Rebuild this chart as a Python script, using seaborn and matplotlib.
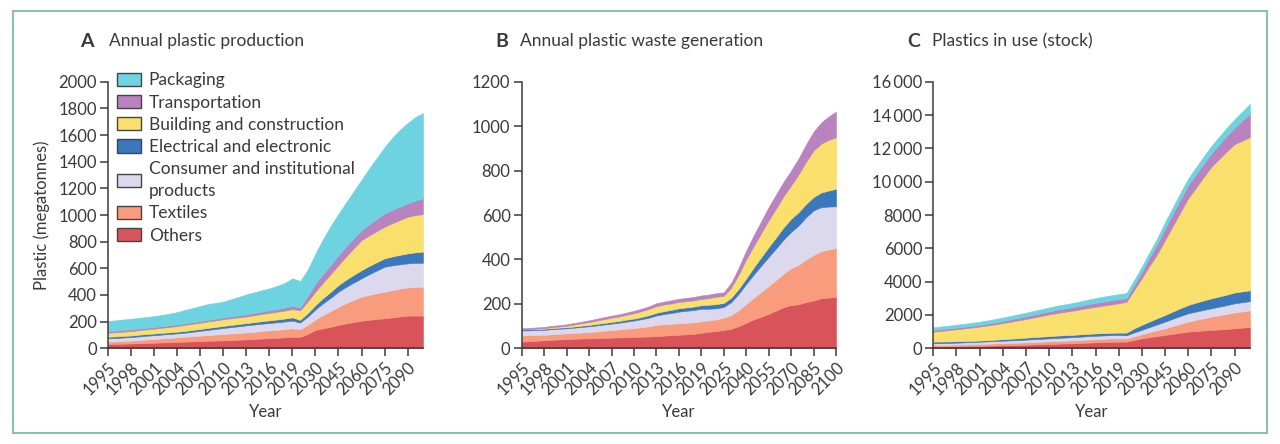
import numpy as np
import seaborn as sns
import matplotlib.pyplot as plt
from matplotlib.patches import Patch, Rectangle
from matplotlib.ticker import FuncFormatter

# categories (x axis is categorical: yearly, then every 5 years)
years_a = list(range(1995, 2021)) + list(range(2025, 2101, 5))
years_b = list(range(1995, 2022)) + list(range(2025, 2101, 5))
years_c = list(range(1995, 2021)) + list(range(2025, 2101, 5))

sectors = ['Others', 'Textiles', 'Consumer and institutional\nproducts',
           'Electrical and electronic', 'Building and construction',
           'Transportation', 'Packaging']
colors = ['#d8535a', '#f99c7e', '#dcd9ee', '#3b77bd', '#f9df6c', '#b983bf', '#6dd3e0']

# A - annual plastic production (Mt)
others_a = [32, 33, 35, 36, 38, 40, 42, 44, 46, 48, 50, 52, 54, 56, 58, 60, 62, 64, 67, 70,
            73, 76, 79, 82, 87, 85,
            108, 137, 150, 162, 175, 187, 197, 207, 214, 220, 225, 232, 239, 245, 246, 245]
textiles_a = [18, 19, 20, 22, 24, 26, 28, 30, 32, 34, 37, 39, 41, 43, 45, 47, 49, 50, 52, 54,
              56, 58, 60, 62, 63, 58,
              68, 80, 100, 118, 137, 152, 167, 180, 187, 194, 200, 205, 209, 212, 215, 217]
consumer_a = [25, 25, 26, 26, 27, 28, 28, 29, 29, 30, 30, 33, 36, 39, 42, 45, 48, 51, 53, 54,
              55, 56, 56, 57, 57, 50,
              62, 75, 88, 100, 113, 122, 130, 138, 155, 170, 187, 185, 182, 180, 180, 180]
electrical_a = [12, 12, 12, 12, 13, 13, 13, 13, 13, 13, 13, 14, 14, 15, 15, 16, 16, 17, 17, 18,
                19, 20, 21, 22, 25, 20,
                27, 33, 39, 45, 50, 54, 58, 62, 62, 63, 63, 67, 71, 75, 79, 83]
building_a = [30, 31, 32, 33, 34, 35, 36, 38, 40, 42, 45, 46, 47, 48, 49, 50, 50, 50, 50, 52,
              54, 56, 58, 60, 62, 72,
              88, 100, 117, 133, 150, 175, 200, 225, 229, 233, 237, 250, 262, 275, 279, 282]
transport_a = [13, 13, 13, 13, 13, 12, 12, 12, 12, 12, 12, 12, 12, 12, 13, 13, 14, 15, 16, 17,
               18, 19, 20, 22, 25, 20,
               40, 62, 66, 70, 75, 75, 75, 75, 83, 92, 100, 100, 100, 100, 109, 118]
packaging_a = [75, 77, 78, 80, 79, 81, 83, 84, 88, 93, 101, 106, 114, 119, 118, 119, 129, 138, 150, 155,
               160, 165, 174, 185, 206, 200,
               197, 223, 260, 292, 310, 330, 353, 378, 420, 458, 498, 541, 577, 603, 627, 640]

# B - annual plastic waste generation (Mt), no packaging layer shown
others_b = [30, 32, 34, 36, 38, 40, 42, 43, 44, 45, 46, 47, 48, 49, 50, 51, 52, 53, 55, 57,
            59, 61, 63, 65, 70, 74, 78,
            82, 88, 100, 115, 130, 142, 155, 170, 185, 195, 198, 208, 215, 225, 228, 232]
textiles_b = [28, 27, 26, 25, 25, 25, 25, 26, 27, 28, 30, 32, 34, 36, 38, 40, 43, 46, 50, 51,
              51, 52, 52, 52, 52, 52, 52,
              56, 62, 72, 85, 98, 112, 125, 138, 152, 165, 178, 192, 205, 212, 217, 220]
consumer_b = [22, 22, 22, 22, 23, 23, 23, 24, 25, 26, 27, 28, 29, 30, 32, 34, 36, 39, 43, 46,
              49, 52, 54, 55, 56, 52, 50,
              48, 58, 74, 90, 104, 118, 131, 142, 153, 164, 177, 190, 201, 198, 193, 187]
electrical_b = [5, 5, 5, 5, 5, 5, 5, 5, 6, 6, 7, 7, 8, 8, 9, 9, 10, 11, 12, 13,
                14, 15, 15, 16, 16, 18, 19,
                18, 20, 22, 25, 32, 38, 45, 50, 55, 59, 60, 60, 60, 66, 72, 79]
building_b = [0, 1, 2, 3, 4, 5, 7, 9, 11, 13, 15, 17, 19, 20, 22, 24, 26, 28, 30, 30,
              29, 29, 28, 28, 28, 30, 33,
              32, 45, 65, 85, 97, 108, 120, 130, 140, 150, 170, 190, 209, 220, 228, 232]
transport_b = [5, 5, 5, 5, 6, 6, 6, 7, 7, 8, 8, 9, 9, 10, 10, 11, 11, 12, 13, 13,
               14, 14, 15, 15, 16, 16, 16,
               16, 22, 30, 40, 47, 54, 60, 63, 65, 67, 72, 78, 85, 95, 105, 116]

# C - plastics in use, stock (Mt)
others_c = [100, 105, 110, 120, 130, 140, 150, 160, 170, 180, 190, 200, 215, 230, 245, 260, 275, 290, 300, 320,
            340, 360, 375, 390, 400, 400,
            500, 600, 670, 740, 800, 870, 935, 1000, 1035, 1070, 1100, 1130, 1160, 1200, 1240, 1280]
textiles_c = [100, 100, 100, 102, 105, 110, 115, 120, 125, 130, 135, 140, 145, 150, 155, 160, 165, 170, 175, 180,
              185, 190, 195, 200, 200, 190,
              220, 250, 300, 350, 400, 470, 535, 600, 670, 735, 800, 850, 900, 950, 975, 1000]
consumer_c = [100, 105, 110, 115, 120, 125, 130, 135, 140, 145, 150, 155, 160, 165, 170, 175, 180, 185, 190, 195,
              200, 200, 200, 200, 200, 190,
              230, 260, 305, 350, 400, 435, 470, 500, 500, 500, 500, 515, 530, 550, 550, 550]
electrical_c = [100, 95, 90, 85, 80, 75, 70, 75, 80, 90, 100, 110, 120, 125, 130, 135, 140, 140, 140, 140,
                140, 140, 140, 140, 140, 160,
                250, 300, 335, 370, 400, 435, 470, 500, 535, 570, 600, 615, 630, 650, 650, 650]
building_c = [600, 640, 680, 720, 760, 800, 840, 880, 920, 970, 1020, 1070, 1120, 1180, 1240, 1300, 1350, 1400, 1450, 1500,
              1550, 1600, 1650, 1700, 1760, 1850,
              2300, 2800, 3350, 3860, 4500, 5130, 5770, 6400, 6900, 7400, 7900, 8250, 8600, 8900, 9050, 9200]
transport_c = [100, 100, 100, 100, 100, 100, 100, 110, 120, 130, 140, 150, 160, 170, 180, 190, 200, 205, 210, 220,
               230, 240, 245, 250, 250, 220,
               300, 400, 500, 600, 700, 730, 770, 800, 800, 800, 800, 870, 930, 1000, 1200, 1400]
packaging_c = [160, 165, 170, 175, 180, 185, 190, 195, 200, 205, 210, 215, 220, 225, 230, 235, 240, 245, 250, 260,
               270, 280, 290, 300, 300, 300,
               300, 300, 320, 350, 380, 390, 400, 400, 420, 440, 450, 470, 490, 500, 550, 600]

sns.set_style('ticks')
plt.rcParams['font.family'] = ['Lato', 'DejaVu Sans']
ink = '#3a3a3a'

fig = plt.figure(figsize=(12.8, 4.44), dpi=100)
fig.patches.append(Rectangle((13 / 1280, 11 / 444), 1254 / 1280, 422 / 444, transform=fig.transFigure,
                             fill=False, edgecolor='#8fbfae', linewidth=1.5))


def thin_thousands(v, pos):
    v = int(round(v))
    if v >= 10000:
        return f'{v // 1000}\u2009{v % 1000:03d}'
    return str(v)


def panel(rect, years, layers, cols, ymax, ystep, letter, title, lx, tx, fmt=None):
    ax = fig.add_axes(rect)
    x = np.arange(len(years))
    ax.stackplot(x, *layers, colors=cols, linewidth=0.4, edgecolor='face')
    ax.set_xlim(0, len(years) - 1)
    ax.set_ylim(0, ymax)
    ax.set_yticks(np.arange(0, ymax + 1, ystep))
    if fmt is not None:
        ax.yaxis.set_major_formatter(FuncFormatter(fmt))
    ticks = x[::3]
    ax.set_xticks(ticks)
    ax.set_xticklabels([str(years[i]) for i in ticks], rotation=45, ha='right',
                       va='top', rotation_mode='anchor')
    sns.despine(ax=ax)
    for s in ['left', 'bottom']:
        ax.spines[s].set_color(ink)
        ax.spines[s].set_linewidth(1.1)
    ax.tick_params(axis='both', colors=ink, labelsize=12, length=6, width=1.1, pad=2)
    ax.set_xlabel('Year', fontsize=12, color=ink, labelpad=4)
    fig.text(lx / 1280, 1 - 41 / 444, letter, fontsize=14, fontweight='bold', color=ink, va='center')
    fig.text(tx / 1280, 1 - 41 / 444, title, fontsize=12.5, color=ink, va='center')
    return ax


ax_a = panel([108 / 1280, 95.7 / 444, 315 / 1280, 266.6 / 444], years_a,
             [others_a, textiles_a, consumer_a, electrical_a, building_a, transport_a, packaging_a],
             colors, 2000, 200, 'A', 'Annual plastic production', 80, 109)
ax_a.set_ylabel('Plastic (megatonnes)', fontsize=12, color=ink, labelpad=6)

panel([521.7 / 1280, 95.7 / 444, 314.3 / 1280, 266.6 / 444], years_b,
      [others_b, textiles_b, consumer_b, electrical_b, building_b, transport_b],
      colors[:6], 1200, 200, 'B', 'Annual plastic waste generation', 495, 520)

panel([933.3 / 1280, 95.7 / 444, 316.7 / 1280, 266.6 / 444], years_c,
      [others_c, textiles_c, consumer_c, electrical_c, building_c, transport_c, packaging_c],
      colors, 16000, 2000, 'C', 'Plastics in use (stock)', 907, 932, fmt=thin_thousands)

handles = [Patch(facecolor=c, edgecolor='#444444', linewidth=1) for c in colors][::-1]
leg = ax_a.legend(handles, sectors[::-1], loc='upper left', bbox_to_anchor=(0.03, 1.035), frameon=False,
                  fontsize=12.5, handlelength=1.35, handleheight=0.8, handletextpad=0.45,
                  labelspacing=0.36, borderpad=0, borderaxespad=0, labelcolor=ink)
for t in leg.get_texts():
    t.set_linespacing(1.45)

fig.savefig('out.png', dpi=100)
